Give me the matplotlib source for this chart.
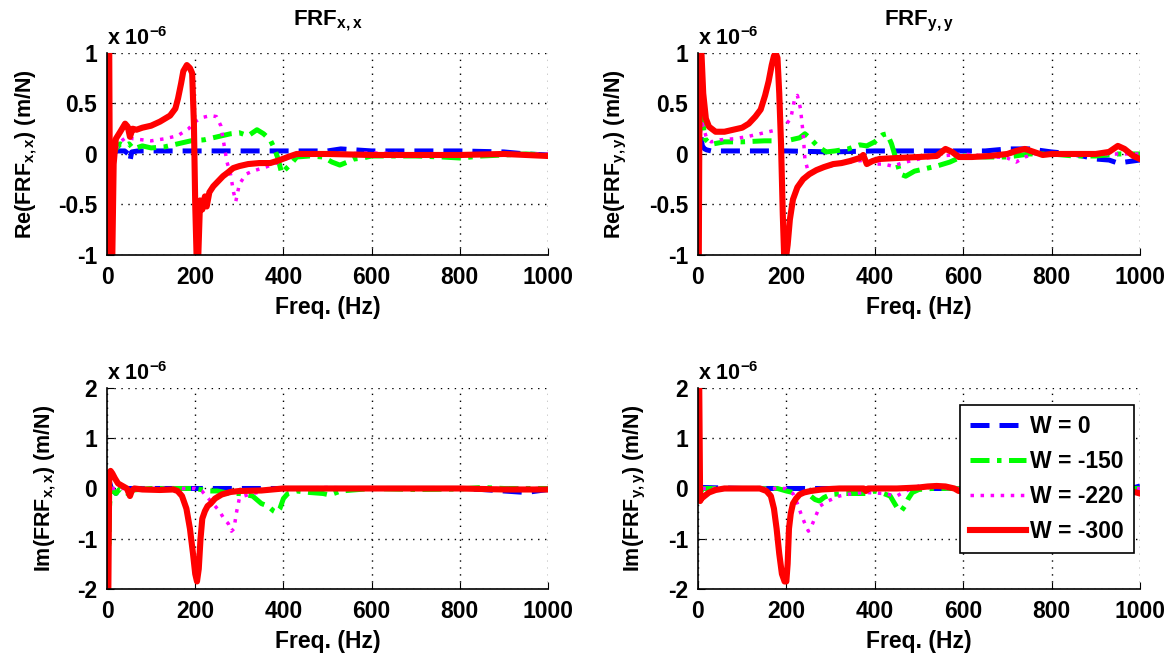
import numpy as np
import matplotlib
matplotlib.use("Agg")
import matplotlib.pyplot as plt

plt.rcParams['font.family'] = ['Liberation Sans', 'DejaVu Sans']
plt.rcParams['font.weight'] = 'bold'
plt.rcParams['mathtext.fontset'] = 'custom'
plt.rcParams['mathtext.rm'] = 'Liberation Sans:bold'
plt.rcParams['mathtext.it'] = 'Liberation Sans:bold'
plt.rcParams['mathtext.bf'] = 'Liberation Sans:bold'

freq_ticks = [0, 200, 400, 600, 800, 1000]
re_ticks = [-1, -0.5, 0, 0.5, 1]
re_tick_labels = ['-1', '-0.5', '0', '0.5', '1']
im_ticks = [-2, -1, 0, 1, 2]
im_tick_labels = ['-2', '-1', '0', '1', '2']
legend_labels = ['W = 0', 'W = -150', 'W = -220', 'W = -300']

# ---- Re(FRF x,x) ----
re_xx_w0_f = [8, 15, 25, 40, 48, 52, 56, 70, 100, 200, 300, 400, 500, 530, 600, 700, 800, 900, 950, 1000]
re_xx_w0_v = [0.0, 0.02, 0.03, 0.03, 0.0, -0.07, 0.02, 0.03, 0.03, 0.03, 0.03, 0.03, 0.03, 0.05, 0.03, 0.03, 0.03, 0.02, 0.0, -0.01]
re_xx_w150_f = [10, 20, 30, 40, 50, 60, 80, 100, 130, 160, 190, 220, 250, 280, 300, 320, 340, 355, 370, 380, 388, 396, 405, 419, 430,
                460, 490, 510, 528, 545, 560, 580, 600, 650, 700, 760, 800, 850, 900, 950, 1000]
re_xx_w150_v = [-0.05, 0.05, 0.1, 0.08, 0.1, 0.05, 0.08, 0.06, 0.07, 0.1, 0.13, 0.14, 0.17, 0.2, 0.21, 0.18, 0.24, 0.2, 0.14, 0.05, -0.05,
                -0.19, -0.15, -0.09, -0.03, -0.02, -0.03, -0.08, -0.11, -0.08, -0.05, -0.04, -0.02, -0.02, -0.02, -0.03, -0.04, -0.02,
                -0.01, 0.0, -0.01]
re_xx_w220_f = [20, 30, 45, 60, 80, 100, 130, 160, 185, 200, 215, 235, 248, 258, 265, 272, 280, 287, 292, 300, 315, 330, 360, 390, 420,
                460, 520, 600, 700, 800, 900, 1000]
re_xx_w220_v = [0.05, 0.12, 0.17, 0.15, 0.14, 0.13, 0.15, 0.18, 0.25, 0.32, 0.36, 0.38, 0.37, 0.28, 0.1, -0.08, -0.2, -0.38, -0.47, -0.3,
                -0.2, -0.17, -0.13, -0.08, -0.02, 0.0, 0.0, 0.01, 0.0, 0.0, 0.0, 0.0]
re_xx_w300_f = [3, 5, 7, 12, 15, 20, 30, 41, 47, 52, 58, 67, 80, 100, 120, 143, 155, 161, 168, 173, 181, 188, 193, 197, 200, 203, 207,
                211, 216, 222, 226, 232, 241, 252, 263, 275, 286, 300, 320, 345, 370, 392, 410, 430, 460, 500, 600, 700, 800, 900, 950, 1000]
re_xx_w300_v = [1.0, 1.0, -1.0, -1.0, -0.1, 0.15, 0.22, 0.3, 0.27, 0.17, 0.25, 0.24, 0.26, 0.28, 0.32, 0.38, 0.45, 0.55, 0.7, 0.82, 0.88,
                0.85, 0.8, 0.3, -0.5, -1.0, -1.0, -0.46, -0.55, -0.42, -0.52, -0.38, -0.32, -0.27, -0.22, -0.18, -0.14, -0.12, -0.1,
                -0.09, -0.09, -0.06, -0.03, 0.0, 0.0, 0.0, -0.01, -0.01, -0.01, 0.0, -0.01, -0.02]

# ---- Re(FRF y,y) ----
re_yy_w0_f = [3, 6, 10, 15, 20, 30, 60, 100, 200, 300, 400, 500, 600, 650, 700, 750, 800, 850, 900, 930, 950, 1000]
re_yy_w0_v = [0.45, 0.2, 0.08, 0.05, 0.04, 0.03, 0.03, 0.03, 0.03, 0.02, 0.03, 0.03, 0.03, 0.03, 0.05, 0.05, 0.02, 0.0, -0.05, -0.06,
              -0.09, -0.06]
re_yy_w150_f = [3, 6, 10, 16, 25, 35, 60, 100, 150, 180, 210, 230, 242, 255, 270, 290, 310, 340, 366, 382, 400, 418, 428, 438, 448, 458,
                470, 490, 510, 540, 570, 600, 650, 700, 750, 800, 850, 900, 950, 1000]
re_yy_w150_v = [0.3, 0.55, 0.35, 0.15, 0.11, 0.1, 0.12, 0.12, 0.13, 0.13, 0.14, 0.16, 0.2, 0.15, 0.08, 0.02, 0.03, 0.05, 0.09, 0.08,
                0.12, 0.19, 0.2, 0.1, -0.05, -0.2, -0.22, -0.17, -0.15, -0.12, -0.08, -0.02, -0.03, -0.03, 0.0, 0.0, -0.02, -0.02, 0.0,
                0.0]
re_yy_w220_f = [5, 10, 20, 30, 50, 80, 110, 140, 170, 195, 210, 219, 225, 232, 238, 242, 248, 255, 265, 280, 300, 330, 360, 380, 400,
                420, 440, 470, 500, 550, 600, 650, 700, 720, 740, 760, 800, 900, 1000]
re_yy_w220_v = [0.2, 0.3, 0.15, 0.12, 0.14, 0.15, 0.17, 0.2, 0.23, 0.27, 0.35, 0.55, 0.58, 0.45, 0.2, -0.05, -0.15, -0.2, -0.17, -0.14,
                -0.12, -0.09, -0.07, -0.06, -0.1, -0.1, -0.12, -0.08, -0.05, -0.02, 0.0, -0.02, -0.04, -0.08, -0.03, 0.0, 0.0, 0.0, 0.0]
re_yy_w300_f = [2, 4, 8, 12, 18, 25, 40, 60, 80, 100, 115, 130, 142, 152, 160, 167, 172, 176, 180, 184, 188, 192, 195, 200, 203, 208,
                215, 225, 238, 252, 268, 285, 306, 325, 344, 366, 374, 382, 395, 410, 450, 500, 540, 560, 575, 590, 620, 660, 700, 720,
                740, 760, 780, 800, 850, 900, 930, 950, 965, 985, 1000]
re_yy_w300_v = [-1.0, 1.0, 1.0, 0.6, 0.35, 0.27, 0.22, 0.22, 0.24, 0.26, 0.3, 0.37, 0.44, 0.58, 0.72, 0.88, 0.97, 1.0, 0.95, 0.6, 0.1,
                -0.6, -1.0, -1.0, -0.9, -0.65, -0.45, -0.33, -0.25, -0.2, -0.16, -0.13, -0.1, -0.09, -0.07, -0.04, -0.01, -0.1, -0.07,
                -0.05, -0.04, -0.03, -0.02, 0.05, 0.02, -0.03, -0.03, -0.02, 0.0, 0.03, 0.05, 0.02, -0.01, 0.0, 0.0, 0.0, 0.02, 0.08,
                0.05, -0.02, -0.05]

# ---- Im(FRF x,x) ----
im_xx_w0_f = [3, 10, 20, 25, 35, 100, 200, 400, 600, 800, 850, 900, 950, 1000]
im_xx_w0_v = [0.2, 0.0, -0.1, -0.05, 0.0, 0.0, 0.0, 0.0, 0.0, 0.0, -0.02, -0.05, -0.08, -0.02]
im_xx_w150_f = [2, 4, 6, 10, 20, 30, 55, 60, 100, 200, 230, 250, 280, 300, 330, 350, 365, 378, 385, 392, 400, 410, 430, 460, 490, 505,
                530, 600, 700, 800, 850, 900, 1000]
im_xx_w150_v = [0.0, -1.2, -0.3, 0.0, -0.1, 0.0, -0.15, -0.03, 0.0, 0.0, -0.05, -0.05, -0.1, -0.1, -0.15, -0.3, -0.35, -0.45, -0.48,
                -0.4, -0.2, -0.1, -0.05, -0.08, -0.1, -0.13, -0.05, 0.0, -0.02, -0.01, 0.02, 0.0, 0.0]
im_xx_w220_f = [10, 100, 200, 215, 230, 245, 255, 265, 275, 282, 288, 293, 300, 310, 330, 360, 400, 500, 600, 700, 800, 900, 1000]
im_xx_w220_v = [0.0, 0.0, 0.0, -0.05, -0.2, -0.35, -0.45, -0.6, -0.7, -0.85, -0.8, -0.5, -0.2, -0.15, -0.1, -0.05, 0.0, 0.02, 0.0, 0.0,
                0.0, 0.0, 0.0]
im_xx_w300_f = [3, 5, 8, 12, 18, 25, 35, 45, 52, 56, 62, 80, 120, 150, 160, 170, 180, 188, 195, 200, 204, 208, 212, 216, 222, 228, 235,
                245, 260, 280, 300, 350, 400, 420, 500, 600, 700, 800, 900, 1000]
im_xx_w300_v = [-2.0, 0.3, 0.35, 0.3, 0.2, 0.1, 0.05, 0.0, -0.15, -0.05, 0.0, -0.02, -0.03, -0.02, -0.05, -0.15, -0.4, -0.8, -1.3, -1.7,
                -1.85, -1.6, -1.0, -0.6, -0.45, -0.35, -0.3, -0.2, -0.12, -0.07, -0.05, -0.04, 0.0, 0.0, 0.0, 0.0, 0.0, 0.0, -0.02, -0.02]

# ---- Im(FRF y,y) ----
im_yy_w0_f = [3, 10, 100, 400, 600, 800, 980, 1000]
im_yy_w0_v = [0.0, 0.02, 0.0, 0.0, 0.0, 0.0, 0.0, 0.05]
im_yy_w150_f = [5, 10, 20, 100, 180, 200, 225, 240, 255, 265, 275, 285, 300, 330, 360, 380, 400, 420, 435, 445, 452, 460, 468, 476, 485,
                500, 530, 560, 600, 700, 800, 1000]
im_yy_w150_v = [-0.1, 0.0, 0.0, 0.0, 0.0, -0.05, -0.1, -0.1, -0.15, -0.22, -0.25, -0.18, -0.12, -0.1, -0.1, -0.1, -0.05, -0.1, -0.15,
                -0.3, -0.4, -0.45, -0.35, -0.2, -0.08, -0.02, 0.0, 0.0, 0.0, 0.0, 0.0, 0.0]
im_yy_w220_f = [10, 100, 200, 215, 225, 233, 242, 250, 257, 264, 276, 294, 320, 350, 380, 420, 450, 470, 500, 530, 560, 600, 700, 800,
                1000]
im_yy_w220_v = [0.0, 0.0, 0.0, -0.1, -0.3, -0.5, -0.7, -0.85, -0.75, -0.6, -0.35, -0.25, -0.15, -0.1, -0.08, -0.1, -0.15, -0.05, 0.05,
                0.05, 0.0, 0.0, 0.0, 0.0, 0.0]
im_yy_w300_f = [3, 5, 8, 15, 25, 40, 60, 100, 140, 155, 165, 172, 178, 184, 190, 196, 200, 203, 206, 210, 215, 222, 230, 240, 255, 280,
                320, 360, 375, 380, 385, 400, 450, 500, 520, 540, 560, 580, 590, 600, 620, 700, 800, 900, 980, 1000]
im_yy_w300_v = [2.0, -0.25, -0.2, -0.15, -0.08, -0.03, 0.0, 0.0, 0.0, -0.05, -0.15, -0.4, -0.8, -1.3, -1.7, -1.85, -1.85, -1.5, -0.8,
                -0.5, -0.3, -0.2, -0.12, -0.08, -0.05, -0.02, 0.0, 0.0, 0.0, -0.05, 0.0, 0.0, 0.0, 0.02, 0.04, 0.05, 0.04, 0.0, -0.05,
                -0.05, -0.03, -0.02, 0.0, 0.0, -0.05, -0.1]

# line look for W = 0, -150, -220, -300
colors = ['#0000FF', '#00FF00', '#FF00FF', '#FF0000']
widths = [3.6, 3.6, 2.5, 4.4]
dashes = [(3.8, 2.0), (3.8, 1.5, 0.9, 1.5), (1.0, 1.9), None]

fig = plt.figure(figsize=(11.71, 6.57), dpi=100)
ax_re_xx = fig.add_axes([0.0914, 0.6119, 0.3766, 0.3075])
ax_re_yy = fig.add_axes([0.596, 0.6119, 0.3775, 0.3075])
ax_im_xx = fig.add_axes([0.0914, 0.1035, 0.3766, 0.306])
ax_im_yy = fig.add_axes([0.596, 0.1035, 0.3775, 0.306])

panels = [
    (ax_re_xx, [(re_xx_w0_f, re_xx_w0_v), (re_xx_w150_f, re_xx_w150_v), (re_xx_w220_f, re_xx_w220_v), (re_xx_w300_f, re_xx_w300_v)],
     'Re(FRF$_{x,x}$) (m/N)', 're'),
    (ax_re_yy, [(re_yy_w0_f, re_yy_w0_v), (re_yy_w150_f, re_yy_w150_v), (re_yy_w220_f, re_yy_w220_v), (re_yy_w300_f, re_yy_w300_v)],
     'Re(FRF$_{y,y}$) (m/N)', 're'),
    (ax_im_xx, [(im_xx_w0_f, im_xx_w0_v), (im_xx_w150_f, im_xx_w150_v), (im_xx_w220_f, im_xx_w220_v), (im_xx_w300_f, im_xx_w300_v)],
     'Im(FRF$_{x,x}$) (m/N)', 'im'),
    (ax_im_yy, [(im_yy_w0_f, im_yy_w0_v), (im_yy_w150_f, im_yy_w150_v), (im_yy_w220_f, im_yy_w220_v), (im_yy_w300_f, im_yy_w300_v)],
     'Im(FRF$_{y,y}$) (m/N)', 'im'),
]

fs = 16.5
for ax, series, ylab, kind in panels:
    for i, (f, v) in enumerate(series):
        line, = ax.plot(f, v, color=colors[i], lw=widths[i], label=legend_labels[i])
        if dashes[i] is not None:
            line.set_dashes(dashes[i])
    ax.set_xlim(0, 1000)
    ax.set_xticks(freq_ticks)
    ax.set_xticklabels([str(t) for t in freq_ticks])
    if kind == 're':
        ax.set_ylim(-1, 1)
        ax.set_yticks(re_ticks)
        ax.set_yticklabels(re_tick_labels)
    else:
        ax.set_ylim(-2, 2)
        ax.set_yticks(im_ticks)
        ax.set_yticklabels(im_tick_labels)
    ax.grid(True, color='black', linestyle=(0, (1, 4)), linewidth=1.0)
    ax.spines['top'].set_visible(False)
    ax.spines['right'].set_visible(False)
    ax.spines['left'].set_linewidth(1.2)
    ax.spines['bottom'].set_linewidth(1.2)
    ax.tick_params(direction='in', length=5, labelsize=fs)
    ax.tick_params(axis='x', pad=8)
    ax.tick_params(axis='y', pad=7)
    ax.set_xlabel('Freq. (Hz)', fontsize=fs, fontweight='bold', labelpad=5)
    ax.set_ylabel(ylab, fontsize=15.5, fontweight='bold', labelpad=14)
    ax.text(0.0, 1.015, r'x 10$^{-6}$', transform=ax.transAxes, fontsize=15.5, fontweight='bold',
            ha='left', va='bottom')

ax_re_xx.set_title('FRF$_{x,x}$', fontsize=16, fontweight='bold', pad=20)
ax_re_yy.set_title('FRF$_{y,y}$', fontsize=16, fontweight='bold', pad=20)

leg = ax_im_yy.legend(loc='upper right', bbox_to_anchor=(0.986, 0.915), fontsize=16.5, handlelength=2.45,
                      labelspacing=0.52, handletextpad=0.15, borderpad=0.45, borderaxespad=0.0,
                      fancybox=False, framealpha=1, edgecolor='black')
leg.get_frame().set_linewidth(1.2)

fig.savefig('out.png', dpi=100)
